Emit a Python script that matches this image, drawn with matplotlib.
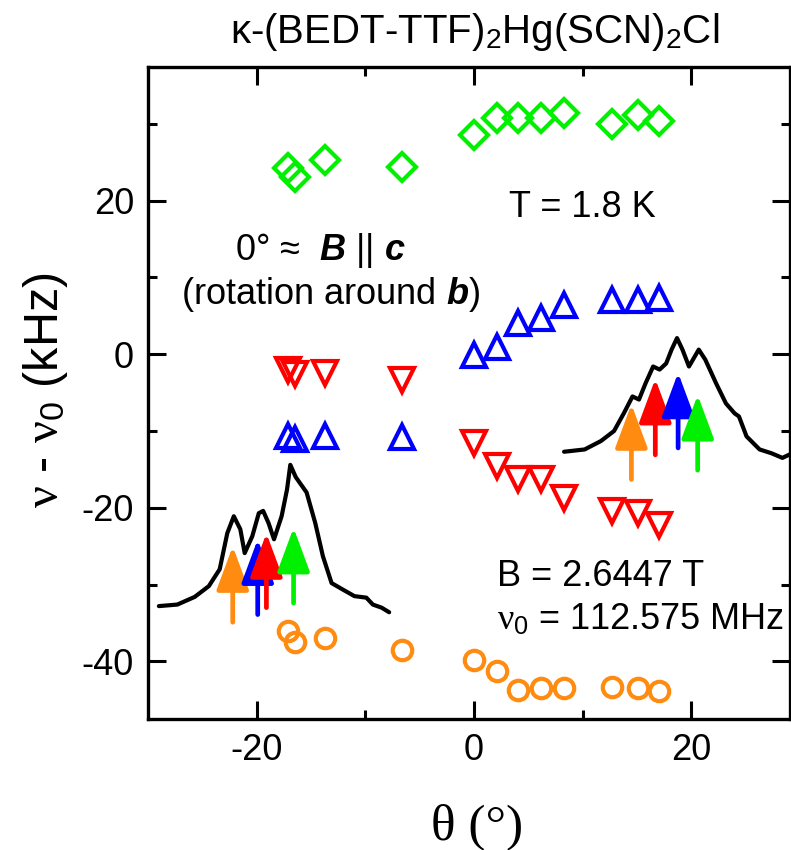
import numpy as np
import matplotlib
matplotlib.use("Agg")
import matplotlib.pyplot as plt

plt.rcParams['font.family'] = ['Liberation Sans', 'DejaVu Sans']
plt.rcParams['mathtext.fontset'] = 'custom'
plt.rcParams['mathtext.rm'] = 'Liberation Sans'
plt.rcParams['mathtext.it'] = 'Liberation Serif'
plt.rcParams['mathtext.bf'] = 'Liberation Sans:bold:italic'
plt.rcParams['axes.unicode_minus'] = False

# ---- data ----
theta = [-17.1, -16.5, -13.7, -6.6, 0.0, 2.1, 4.1, 6.2, 8.3, 12.7, 15.1, 17.0]

green = [24.2, 23.1, 25.3, 24.4, 28.5, 30.7, 30.7, 30.7, 31.4, 30.0, 31.1, 30.4]
blue = [-10.7, -11.0, -10.7, -10.8, -0.1, 0.9, 4.1, 4.7, 6.4, 7.0, 7.0, 7.3]
red = [-2.1, -2.6, -2.5, -3.3, -11.6, -14.6, -16.3, -16.3, -18.7, -20.4, -20.7, -22.2]
orange = [-36.0, -37.5, -37.0, -38.5, -39.8, -41.2, -43.7, -43.5, -43.5, -43.3, -43.5, -43.9]

# spectrum drawn near -17 deg (shifted/scaled into the plot)
spec_l_x = [-29.0, -27.3, -25.7, -24.4, -23.4, -22.7, -22.1, -21.5, -21.1, -20.4,
            -19.8, -19.4, -18.9, -18.4, -17.7, -17.2, -16.9, -16.4, -15.4, -14.6,
            -13.9, -13.1, -12.0, -11.0, -9.9, -9.3, -8.5, -7.8]
spec_l_y = [-32.8, -32.6, -31.6, -30.2, -28.0, -23.3, -21.1, -22.8, -25.9, -23.7,
            -20.7, -20.4, -22.0, -24.1, -21.1, -17.6, -14.4, -16.0, -18.0, -22.0,
            -26.3, -29.8, -30.7, -31.5, -31.7, -32.6, -33.0, -33.6]

# spectrum drawn near +17 deg
spec_r_x = [8.3, 10.2, 11.7, 12.9, 13.8, 14.6, 15.2, 15.8, 16.5, 17.1, 17.7, 18.2,
            18.7, 19.2, 19.8, 20.7, 21.3, 22.3, 23.2, 24.0, 24.4, 25.1, 26.3, 27.4,
            28.4, 29.3]
spec_r_y = [-12.7, -12.4, -11.3, -10.0, -7.7, -5.5, -5.9, -3.8, -1.6, -2.0, -1.2, 0.6,
            2.1, 0.6, -1.6, 0.6, -0.7, -3.8, -6.4, -7.7, -8.1, -10.7, -12.4, -12.9,
            -13.5, -12.9]

c_green = '#00f000'
c_blue = '#0000ff'
c_red = '#ff0000'
c_orange = '#ff8c10'

# arrows: x position, tail y, tip y
arr_l_x = [-22.2, -19.9, -19.1, -16.6]
arr_l_tail = [-34.9, -33.9, -33.0, -32.4]
arr_l_tip = [-25.0, -24.1, -23.3, -22.6]
arr_l_col = [c_orange, c_blue, c_red, c_green]

arr_r_x = [14.5, 16.7, 18.8, 20.6]
arr_r_tail = [-16.3, -13.1, -12.2, -15.1]
arr_r_tip = [-6.5, -3.2, -2.4, -5.3]
arr_r_col = [c_orange, c_red, c_blue, c_green]

fig = plt.figure(figsize=(7.91, 8.5), dpi=100)
ax = fig.add_axes([148 / 791, 1 - 719 / 850, (790 - 148) / 791, (719 - 67) / 850])

ax.plot(theta, green, 'D', ms=14, mfc='none', mec=c_green, mew=3, ls='none')
ax.plot(theta, blue, '^', ms=17, mfc='none', mec=c_blue, mew=3, ls='none')
ax.plot(theta, red, 'v', ms=17, mfc='none', mec=c_red, mew=3, ls='none')
ax.plot(theta, orange, 'o', ms=14, mfc='none', mec=c_orange, mew=3, ls='none')

ax.plot(spec_l_x, spec_l_y, color='black', lw=3, solid_joinstyle='round',
        solid_capstyle='round')
ax.plot(spec_r_x, spec_r_y, color='black', lw=3, solid_joinstyle='round',
        solid_capstyle='round')

for xs, tails, tips, cols in [(arr_l_x, arr_l_tail, arr_l_tip, arr_l_col),
                              (arr_r_x, arr_r_tail, arr_r_tip, arr_r_col)]:
    for x, t0, t1, c in zip(xs, tails, tips, cols):
        ax.annotate('', xy=(x, t1), xytext=(x, t0),
                    arrowprops=dict(arrowstyle='-|>,head_length=1.35,head_width=0.5',
                                    lw=3.4, color=c, shrinkA=0, shrinkB=0,
                                    mutation_scale=20, joinstyle='round',
                                    capstyle='round'))

ax.set_xlim(-30, 29.1)
ax.set_ylim(-47.5, 37.4)
ax.set_xticks([-20, 0, 20])
ax.set_xticks([-10, 10], minor=True)
ax.set_yticks([-40, -20, 0, 20])
ax.set_yticks([-30, -10, 10, 30], minor=True)
ax.tick_params(which='both', direction='in', top=True, right=True, width=2.2,
               labelsize=26, pad=10)
ax.tick_params(which='major', length=13)
ax.tick_params(which='minor', length=6.5)
for s in ax.spines.values():
    s.set_linewidth(2.4)

ax.text(3.2, 19.1, 'T = 1.8 K', fontsize=26, ha='left', va='center')
ax.text(-14.1, 13.5, r'0° ≈  $\mathbf{B}$ || $\mathbf{c}$', fontsize=26,
        ha='center', va='center')
ax.text(-13.2, 7.8, r'(rotation around $\mathbf{b}$)', fontsize=26,
        ha='center', va='center')
ax.text(2.1, -29.0, 'B = 2.6447 T', fontsize=26, ha='left', va='center')
ax.text(2.1, -34.6, r'$\nu_\mathrm{0}$ = 112.575 MHz', fontsize=26,
        ha='left', va='center')

fig.text(475 / 791, 1 - 32 / 850,
         r'κ-(BEDT-TTF)$_\mathrm{2}$Hg(SCN)$_\mathrm{2}$Cl',
         fontsize=29, ha='center', va='center')
fig.text(45 / 791, 1 - 390 / 850, r'$\nu$ - $\nu_\mathrm{0}$ (kHz)', fontsize=35,
         rotation=90, ha='center', va='center')
fig.text(477 / 791, 1 - 827 / 850, 'θ (°)', fontsize=37, ha='center', va='center',
         family='Liberation Serif')

fig.savefig('out.png', dpi=100)
